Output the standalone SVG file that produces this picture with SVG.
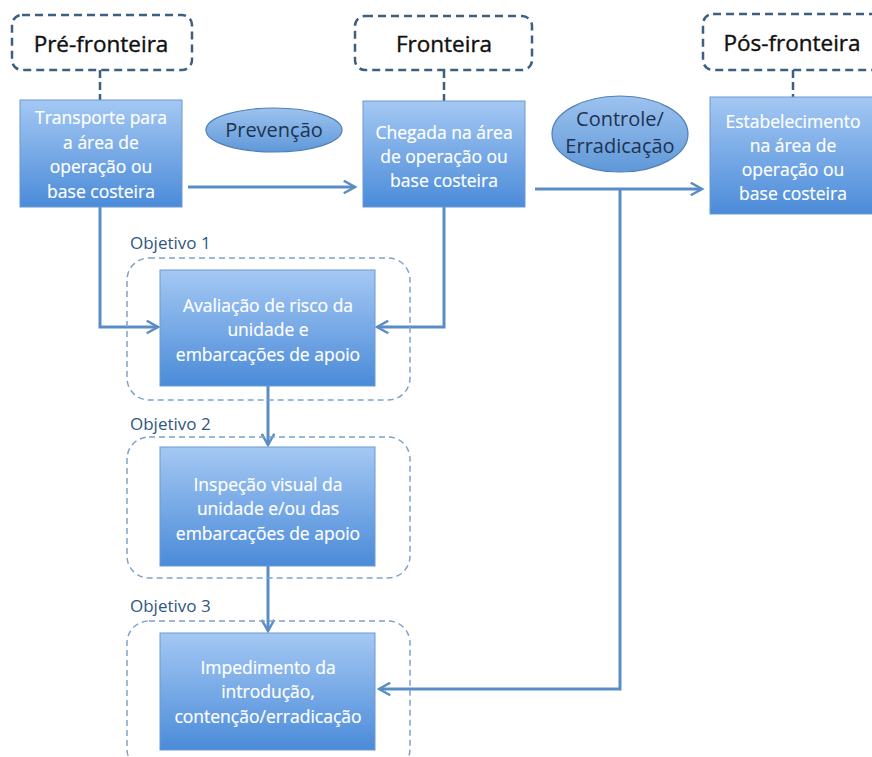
<svg xmlns="http://www.w3.org/2000/svg" width="872" height="757" viewBox="0 0 872 757">
<style>
.hdr{fill:#fff;stroke:#3d5f80;stroke-width:2.5;stroke-dasharray:8 5}
.hdrt{font-family:"Open Sans","Liberation Sans",sans-serif;font-size:22.5px;fill:#111;text-anchor:middle;stroke:#111;stroke-width:0.4}
.box{fill:url(#g);stroke:#6a9ad0;stroke-width:1}
.bt{font-family:"Open Sans","Liberation Sans",sans-serif;font-size:17.5px;fill:#fff;text-anchor:middle;stroke:#fff;stroke-width:0.2}
.ell{fill:url(#ge);stroke:#4f7fb5;stroke-width:1.2}
.et{font-family:"Open Sans","Liberation Sans",sans-serif;font-size:20px;fill:#1e3350;text-anchor:middle}
.obj{fill:none;stroke:#7fa3c8;stroke-width:1.5;stroke-dasharray:6 4}
.ot{font-family:"Open Sans","Liberation Sans",sans-serif;font-size:17px;fill:#2f5680}
.c{fill:none;stroke:#5a8cc5;stroke-width:3}
.d{fill:none;stroke:#3d5f80;stroke-width:2.5;stroke-dasharray:8 4}
</style>
<defs>
<linearGradient id="g" x1="0" y1="0" x2="0" y2="1"><stop offset="0" stop-color="#a4c8f3"/><stop offset="1" stop-color="#4b8bd9"/></linearGradient>
<linearGradient id="ge" x1="0" y1="0" x2="0" y2="1"><stop offset="0" stop-color="#9dc3ef"/><stop offset="1" stop-color="#5f98d8"/></linearGradient>
<marker id="a" viewBox="0 0 12 12" refX="10" refY="6" markerWidth="5" markerHeight="5" orient="auto" markerUnits="strokeWidth"><path d="M1,1 L10,6 L1,11" fill="none" stroke="#5a8cc5" stroke-width="2"/></marker>
</defs>
<rect width="872" height="757" fill="#fff"/>
<g id="connectors">
<path class="d" d="M100,70 V100"/>
<path class="d" d="M444,70 V101"/>
<path class="d" d="M793,70 V97"/>
<path class="c" d="M188,187 H355" marker-end="url(#a)"/>
<path class="c" d="M535,189 H702" marker-end="url(#a)"/>
<path class="c" d="M100,207 V327 H158" marker-end="url(#a)"/>
<path class="c" d="M444,207 V327 H377" marker-end="url(#a)"/>
<path class="c" d="M268,386 V445" marker-end="url(#a)"/>
<path class="c" d="M268,566 V631" marker-end="url(#a)"/>
<path class="c" d="M620,189 V689 H379" marker-end="url(#a)"/>
</g>
<g id="obj1"><rect class="obj" x="127" y="258" width="283" height="142" rx="22"/><text class="ot" x="130" y="249">Objetivo 1</text></g>
<g id="obj2"><rect class="obj" x="127" y="437" width="283" height="141" rx="22"/><text class="ot" x="130" y="430">Objetivo 2</text></g>
<g id="obj3"><rect class="obj" x="127" y="621" width="283" height="150" rx="22"/><text class="ot" x="130" y="612">Objetivo 3</text></g>
<g id="pre"><rect class="hdr" x="12" y="15" width="180" height="55" rx="10"/><text class="hdrt" x="101" y="52">Pré-fronteira</text></g>
<g id="fronteira"><rect class="hdr" x="355" y="16" width="177" height="54" rx="10"/><text class="hdrt" x="444" y="52">Fronteira</text></g>
<g id="pos"><rect class="hdr" x="703" y="14" width="180" height="56" rx="10"/><text class="hdrt" x="792" y="51">Pós-fronteira</text></g>
<g id="transporte"><rect class="box" x="20" y="100" width="162" height="107"/>
<text class="bt" x="101" y="124">Transporte para</text><text class="bt" x="101" y="149">a área de</text><text class="bt" x="101" y="173">operação ou</text><text class="bt" x="101" y="198">base costeira</text></g>
<g id="prevencao"><ellipse class="ell" cx="274" cy="130" rx="68" ry="22"/><text class="et" x="274" y="137">Prevenção</text></g>
<g id="chegada"><rect class="box" x="363" y="101" width="162" height="106"/>
<text class="bt" x="444" y="139">Chegada na área</text><text class="bt" x="444" y="163">de operação ou</text><text class="bt" x="444" y="187">base costeira</text></g>
<g id="controle"><ellipse class="ell" cx="620" cy="134" rx="68" ry="38"/><text class="et" x="620" y="126">Controle/</text><text class="et" x="620" y="153">Erradicação</text></g>
<g id="estabelecimento"><rect class="box" x="710" y="97" width="170" height="117"/>
<text class="bt" x="793" y="128">Estabelecimento</text><text class="bt" x="793" y="152">na área de</text><text class="bt" x="793" y="176">operação ou</text><text class="bt" x="793" y="200">base costeira</text></g>
<g id="avaliacao"><rect class="box" x="160" y="270" width="215" height="116"/>
<text class="bt" x="268" y="312">Avaliação de risco da</text><text class="bt" x="268" y="336">unidade e</text><text class="bt" x="268" y="361">embarcações de apoio</text></g>
<g id="inspecao"><rect class="box" x="160" y="447" width="215" height="119"/>
<text class="bt" x="268" y="491">Inspeção visual da</text><text class="bt" x="268" y="515">unidade e/ou das</text><text class="bt" x="268" y="540">embarcações de apoio</text></g>
<g id="impedimento"><rect class="box" x="160" y="633" width="215" height="117"/>
<text class="bt" x="268" y="674">Impedimento da</text><text class="bt" x="268" y="698">introdução,</text><text class="bt" x="268" y="723">contenção/erradicação</text></g>
</svg>
